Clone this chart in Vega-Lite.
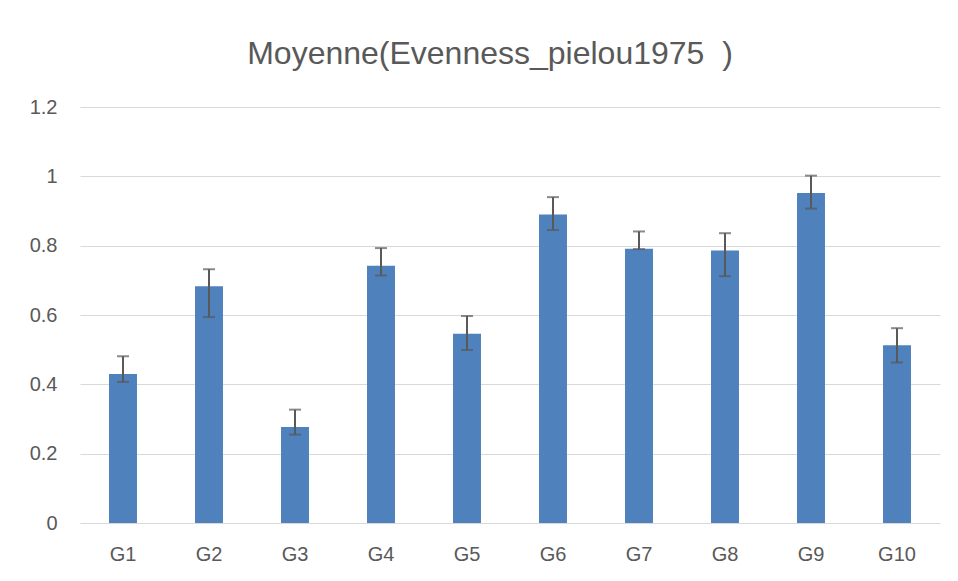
{
  "$schema": "https://vega.github.io/schema/vega-lite/v6.json",
  "width": 860,
  "height": 416,
  "autosize": {"type": "none"},
  "padding": {"left": 80, "top": 107, "right": 18, "bottom": 58},
  "background": "white",
  "title": {
    "text": "Moyenne(Evenness_pielou1975 \u00a0)",
    "font": "Liberation Sans",
    "fontSize": 32,
    "fontWeight": "normal",
    "color": "#595959",
    "anchor": "middle",
    "baseline": "alphabetic",
    "offset": 1,
    "dx": -20
  },
  "config": {
    "view": {"stroke": null},
    "axis": {
      "labelFont": "Liberation Sans",
      "labelColor": "#595959",
      "labelFontSize": 20,
      "gridColor": "#d9d9d9",
      "gridWidth": 1,
      "domain": false,
      "ticks": false,
      "title": null
    }
  },
  "data": {
    "values": [
      {"group": "G1", "mean": 0.430, "hi": 0.481, "lo": 0.407},
      {"group": "G2", "mean": 0.683, "hi": 0.732, "lo": 0.594},
      {"group": "G3", "mean": 0.277, "hi": 0.327, "lo": 0.255},
      {"group": "G4", "mean": 0.742, "hi": 0.793, "lo": 0.714},
      {"group": "G5", "mean": 0.546, "hi": 0.597, "lo": 0.499},
      {"group": "G6", "mean": 0.890, "hi": 0.940, "lo": 0.845},
      {"group": "G7", "mean": 0.791, "hi": 0.841, "lo": 0.790},
      {"group": "G8", "mean": 0.786, "hi": 0.836, "lo": 0.712},
      {"group": "G9", "mean": 0.952, "hi": 1.002, "lo": 0.907},
      {"group": "G10", "mean": 0.513, "hi": 0.562, "lo": 0.463}
    ]
  },
  "encoding": {
    "x": {
      "field": "group",
      "type": "nominal",
      "sort": null,
      "scale": {"paddingInner": 0.675, "paddingOuter": 0.3375},
      "axis": {"labelAngle": 0, "labelPadding": 21, "grid": false}
    }
  },
  "layer": [
    {
      "mark": {"type": "bar", "color": "#4f81bd"},
      "encoding": {
        "y": {
          "field": "mean",
          "type": "quantitative",
          "scale": {"domain": [0, 1.2], "nice": false},
          "axis": {
            "values": [0, 0.2, 0.4, 0.6, 0.8, 1, 1.2],
            "format": "~g",
            "labelPadding": 23,
            "grid": true
          }
        }
      }
    },
    {
      "mark": {"type": "rule", "color": "#595959", "strokeWidth": 2},
      "encoding": {
        "y": {"field": "lo", "type": "quantitative"},
        "y2": {"field": "hi"}
      }
    },
    {
      "mark": {"type": "tick", "color": "#595959", "thickness": 2, "size": 12},
      "encoding": {"y": {"field": "hi", "type": "quantitative"}}
    },
    {
      "mark": {"type": "tick", "color": "#595959", "thickness": 2, "size": 12},
      "encoding": {"y": {"field": "lo", "type": "quantitative"}}
    }
  ]
}
